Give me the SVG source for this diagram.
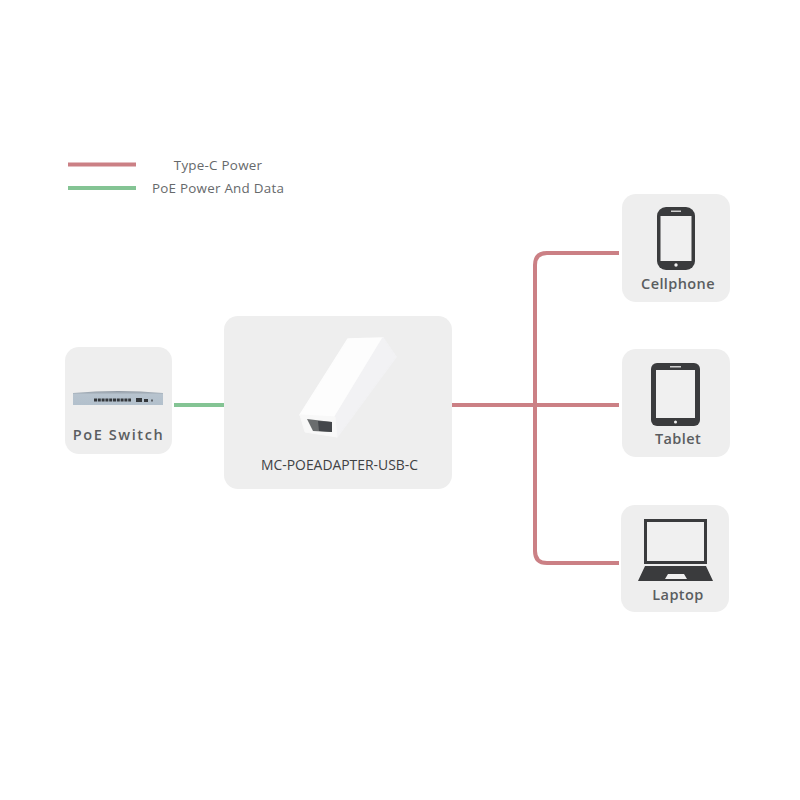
<svg xmlns="http://www.w3.org/2000/svg" width="800" height="800" viewBox="0 0 800 800">
  <style>
    .card { fill: #eeeeee; }
    .label { font-family: "Open Sans", "Noto Sans", sans-serif; fill: #5a5d60; text-anchor: middle; }
    .device { font-size: 14.5px; font-weight: 600; letter-spacing: .4px; }
    .legend { font-size: 13.4px; fill: #66696b; letter-spacing: .25px; }
    .power { fill: none; stroke: #cb8085; stroke-width: 4; }
    .poe { fill: none; stroke: #84c494; stroke-width: 4; }
    .ink { fill: #3a3b3d; }
    .screen { fill: #f0f0f0; }
  </style>
  <defs>
    <linearGradient id="switch-body" x1="0" y1="0" x2="0" y2="1">
      <stop offset="0" stop-color="#8f98a2"/>
      <stop offset="0.25" stop-color="#b7c3ce"/>
      <stop offset="1" stop-color="#b2c0cc"/>
    </linearGradient>
  </defs>
  <rect width="800" height="800" fill="#ffffff"/>

  <g id="connectors">
    <path class="power" d="M68 164.500H136"/>
    <path class="poe" d="M68 188H136"/>
    <path class="poe" d="M174 405H224"/>
    <path class="power" d="M452 405H619"/>
    <path class="power" d="M619 253H547Q535 253 535 265V551Q535 563 547 563H619"/>
  </g>

  <g id="legend">
    <text class="label legend" x="218" y="170">Type-C Power</text>
    <text class="label legend" x="218" y="193">PoE Power And Data</text>
  </g>

  <g id="poe-switch">
    <rect class="card" x="65" y="347" width="107" height="107" rx="14"/>
    <path d="M73 393Q118 389 163 393V405H73Z" fill="url(#switch-body)"/>
    <path d="M94 400H131" stroke="#33373b" stroke-width="3" stroke-dasharray="3 .8"/>
    <rect x="136" y="398" width="6" height="4" fill="#33373b"/>
    <rect x="144" y="399" width="4" height="3" fill="#33373b"/>
    <rect x="151" y="399.500" width="2" height="2" fill="#5c6167"/>
    <text class="label" x="118.500" y="440" font-size="14.500" font-weight="600" letter-spacing="1.600">PoE Switch</text>
  </g>

  <g id="adapter">
    <rect class="card" x="224" y="316" width="228" height="173" rx="14"/>
    <path d="M300 415L348 339L383 338L335 417Z" fill="#fdfdfd" stroke="#fdfdfd" stroke-width="1.500" stroke-linejoin="round"/>
    <path d="M383 338L396 357L337 437L335 417Z" fill="#f2f2f4" stroke="#f2f2f4" stroke-width="1.500" stroke-linejoin="round"/>
    <path d="M300 415L335 417L337 437L305 432Z" fill="#f8f8f8" stroke="#f8f8f8" stroke-width="1" stroke-linejoin="round"/>
    <path d="M307 419L332 422L332 432L313 431Z" fill="#6a6d6e"/>
    <path d="M318 421L332 422L332 432L319 431Z" fill="#43464a"/>
    <text class="label" x="339.500" y="470" font-size="13.900" style="fill:#3f4244">MC-POEADAPTER-USB-C</text>
  </g>

  <g id="cellphone">
    <rect class="card" x="622" y="194" width="108" height="108" rx="14"/>
    <rect class="ink" x="657" y="207" width="38" height="63" rx="9"/>
    <rect class="screen" x="660.500" y="216" width="31" height="45"/>
    <rect x="671" y="210.500" width="10" height="1.500" fill="#cfcfcf"/>
    <circle cx="676" cy="265" r="1.700" fill="#f2f2f2"/>
    <text class="label device" x="678" y="289">Cellphone</text>
  </g>

  <g id="tablet">
    <rect class="card" x="622" y="349" width="108" height="108" rx="14"/>
    <rect class="ink" x="651" y="363" width="49" height="63" rx="6"/>
    <rect class="screen" x="656" y="370" width="39" height="48"/>
    <rect x="670" y="366" width="11" height="1.500" fill="#cfcfcf"/>
    <circle cx="675.500" cy="422" r="1.500" fill="#f2f2f2"/>
    <text class="label device" x="678" y="444">Tablet</text>
  </g>

  <g id="laptop">
    <rect class="card" x="621" y="505" width="108" height="107" rx="14"/>
    <rect class="ink" x="644" y="519" width="63" height="45"/>
    <rect class="screen" x="647" y="522" width="57" height="39"/>
    <path class="ink" d="M645 566H706L713 581H638Z"/>
    <path d="M668 574H684L687 579H665Z" fill="#f0f0f0"/>
    <text class="label device" x="678" y="600">Laptop</text>
  </g>
</svg>
